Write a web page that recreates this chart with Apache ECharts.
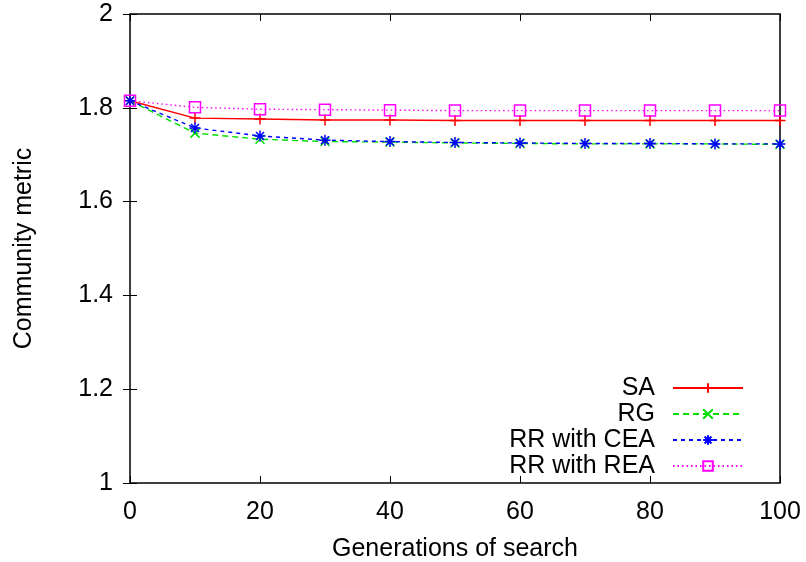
<!DOCTYPE html>
<html lang="en">
<head>
    <meta charset="UTF-8">
    <title>Community metric</title>
    <style>
        html, body { margin: 0; padding: 0; background: #fff; }
    </style>
</head>
<body>
<div id="main" style="width: 806px;height:562px;"></div>
<script src="https://cdn.jsdelivr.net/npm/echarts@6/dist/echarts.min.js"></script>
<script>
    // generations (x)
    var generations = [0, 10, 20, 30, 40, 50, 60, 70, 80, 90, 100];
    var xTicks = [0, 20, 40, 60, 80, 100];
    var yTicks = [1, 1.2, 1.4, 1.6, 1.8, 2];

    // values
    var sa     = [1.815, 1.778, 1.776, 1.774, 1.774, 1.773, 1.773, 1.773, 1.773, 1.773, 1.773];
    var rg     = [1.815, 1.746, 1.733, 1.728, 1.727, 1.725, 1.724, 1.723, 1.723, 1.723, 1.722];
    var rrCea  = [1.815, 1.757, 1.740, 1.731, 1.728, 1.726, 1.725, 1.724, 1.724, 1.723, 1.723];
    var rrRea  = [1.815, 1.801, 1.797, 1.796, 1.795, 1.794, 1.794, 1.794, 1.794, 1.794, 1.794];

    var names = ['SA', 'RG', 'RR with CEA', 'RR with REA'];
    var colors = ['#ff0000', '#00e000', '#0000ff', '#ff00ff'];

    var font = '"Liberation Sans", Arial, sans-serif';
    var fs = 25;

    function pairs(ys) {
        return generations.map(function (x, i) { return [x, ys[i]]; });
    }

    var plusSym = 'path://M0,-1L0,1M-1,0L1,0';
    var crossSym = 'path://M-1,-1L1,1M-1,1L1,-1';
    var starSym = 'path://M0,-1L0,1M-1,0L1,0M-0.72,-0.72L0.72,0.72M-0.72,0.72L0.72,-0.72';
    var boxSym = 'path://M-1,-1L1,-1L1,1L-1,1Z';

    function makeSeries(name, ys, color, dash, sym, size) {
        return {
            name: name,
            type: 'line',
            data: pairs(ys),
            symbol: sym,
            symbolSize: size,
            showAllSymbol: true,
            lineStyle: { color: color, width: 1.4, type: dash },
            itemStyle: { color: sym === boxSym ? 'rgba(0,0,0,0)' : color, borderColor: color, borderWidth: 1.5 },
            emphasis: { disabled: true }
        };
    }

    var myChart = echarts.init(document.getElementById('main'));

    var axisLabel = { color: '#000', fontFamily: font, fontSize: fs };

    myChart.setOption({
        animation: false,
        backgroundColor: '#fff',
        grid: {
            left: 130, right: 26, top: 14, bottom: 79,
            outerBoundsMode: 'none',
            containLabel: false,
            show: true, borderColor: '#000', borderWidth: 1.5, backgroundColor: 'transparent'
        },
        legend: {
            orient: 'vertical',
            align: 'right',
            right: 57,
            top: 370,
            itemWidth: 70,
            itemHeight: 12,
            itemGap: 0,
            textStyle: { color: '#000', fontFamily: font, fontSize: fs, lineHeight: 26, padding: [0, 13, 0, 0] },
            data: names
        },
        xAxis: [{
            type: 'value',
            min: 0, max: 100, interval: 20,
            name: 'Generations of search',
            nameLocation: 'middle',
            nameGap: 54,
            nameTextStyle: { color: '#000', fontFamily: font, fontSize: fs },
            axisLine: { show: false },
            axisTick: { show: true, inside: true, length: 7, lineStyle: { color: '#000', width: 1 } },
            axisLabel: Object.assign({ margin: 17, customValues: xTicks }, axisLabel),
            splitLine: { show: false }
        }, {
            type: 'value', position: 'top',
            min: 0, max: 100, interval: 20,
            axisLine: { show: false },
            axisTick: { show: true, inside: true, length: 7, lineStyle: { color: '#000', width: 1 } },
            axisLabel: { show: false },
            splitLine: { show: false }
        }],
        yAxis: [{
            type: 'value',
            min: 1, max: 2, interval: 0.2,
            name: 'Community metric',
            nameLocation: 'middle',
            nameRotate: 90,
            nameGap: 93,
            nameTextStyle: { color: '#000', fontFamily: font, fontSize: fs },
            axisLine: { show: false },
            axisTick: { show: true, inside: true, length: 7, lineStyle: { color: '#000', width: 1 } },
            axisLabel: Object.assign({ margin: 17, formatter: function (v) {
                return yTicks.indexOf(Math.round(v * 10) / 10) >= 0 ? String(Math.round(v * 10) / 10) : '';
            } }, axisLabel),
            splitLine: { show: false }
        }, {
            type: 'value', position: 'right',
            min: 1, max: 2, interval: 0.2,
            axisLine: { show: false },
            axisTick: { show: true, inside: true, length: 7, lineStyle: { color: '#000', width: 1 } },
            axisLabel: { show: false },
            splitLine: { show: false }
        }],
        series: [
            makeSeries(names[0], sa, colors[0], 'solid', plusSym, 11),
            makeSeries(names[1], rg, colors[1], [6, 4], crossSym, 9),
            makeSeries(names[2], rrCea, colors[2], [4, 4], starSym, 11),
            makeSeries(names[3], rrRea, colors[3], [1.5, 3], boxSym, 11)
        ]
    });
</script>
</body>
</html>
